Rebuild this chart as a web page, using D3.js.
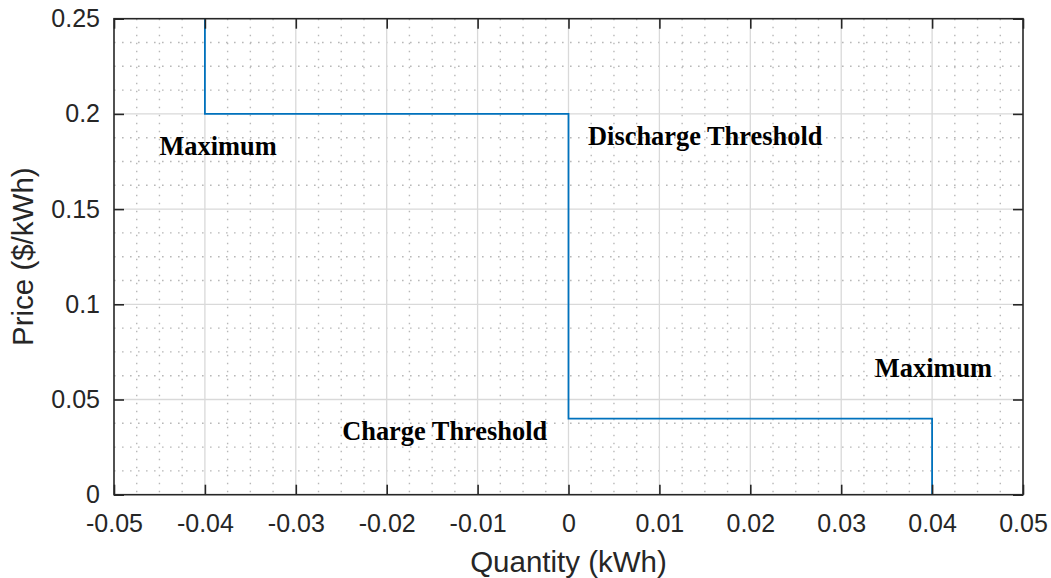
<!DOCTYPE html>
<html>
<head>
<meta charset="utf-8">
<script src="https://cdn.jsdelivr.net/npm/d3@7"></script>
<style>
  html, body { margin: 0; padding: 0; background: #ffffff; }
  svg { display: block; }
</style>
</head>
<body>
<svg id="chart" width="1051" height="578"></svg>
<script>
// Bid curve of the storage unit: price vs. quantity (step profile)
const quantity = [-0.04, -0.04, 0, 0, 0.04, 0.04];
const price    = [0.25, 0.2, 0.2, 0.04, 0.04, 0];

// Axis ticks and their labels
const xTicks = [-0.05, -0.04, -0.03, -0.02, -0.01, 0, 0.01, 0.02, 0.03, 0.04, 0.05];
const xTickLabels = ["-0.05", "-0.04", "-0.03", "-0.02", "-0.01", "0", "0.01", "0.02", "0.03", "0.04", "0.05"];
const yTicks = [0, 0.05, 0.1, 0.15, 0.2, 0.25];
const yTickLabels = ["0", "0.05", "0.1", "0.15", "0.2", "0.25"];

// Annotations placed in data coordinates (left edge, baseline)
const noteText = ["Maximum", "Discharge Threshold", "Charge Threshold", "Maximum"];
const noteX    = [-0.045, 0.00215, -0.0249, 0.0337];
const noteY    = [0.1784, 0.1837, 0.0287, 0.0618];

const margin = { left: 114, right: 28, top: 18.7, bottom: 83.3 };
const W = 1051, H = 578;
const svg = d3.select("#chart");

const x = d3.scaleLinear().domain([-0.05, 0.05]).range([margin.left, W - margin.right]);
const y = d3.scaleLinear().domain([0, 0.25]).range([H - margin.bottom, margin.top]);

const x0 = x.range()[0], x1 = x.range()[1];
const yB = y.range()[0], yT = y.range()[1];

// Minor grid (dotted), four subdivisions per major step
const xMinor = [];
for (let i = 0; i < xTicks.length - 1; i++) {
  const step = (xTicks[i + 1] - xTicks[i]) / 4;
  for (let k = 1; k < 4; k++) xMinor.push(xTicks[i] + k * step);
}
const yMinor = [];
for (let i = 0; i < yTicks.length - 1; i++) {
  const step = (yTicks[i + 1] - yTicks[i]) / 4;
  for (let k = 1; k < 4; k++) yMinor.push(yTicks[i] + k * step);
}

const grid = svg.append("g").attr("class", "grid");
grid.selectAll("line.xminor").data(xMinor).join("line")
  .attr("x1", d => x(d)).attr("x2", d => x(d))
  .attr("y1", yT).attr("y2", yB)
  .attr("stroke", "#b8b8b8").attr("stroke-width", 1.4)
  .attr("stroke-dasharray", "1.6,6.4");
grid.selectAll("line.yminor").data(yMinor).join("line")
  .attr("y1", d => y(d)).attr("y2", d => y(d))
  .attr("x1", x0).attr("x2", x1)
  .attr("stroke", "#b8b8b8").attr("stroke-width", 1.4)
  .attr("stroke-dasharray", "1.6,6.4");

// Major grid (solid, light)
grid.selectAll("line.xmajor").data(xTicks.slice(1, -1)).join("line")
  .attr("x1", d => x(d)).attr("x2", d => x(d))
  .attr("y1", yT).attr("y2", yB)
  .attr("stroke", "#d9d9d9").attr("stroke-width", 1.3);
grid.selectAll("line.ymajor").data(yTicks.slice(1, -1)).join("line")
  .attr("y1", d => y(d)).attr("y2", d => y(d))
  .attr("x1", x0).attr("x2", x1)
  .attr("stroke", "#d9d9d9").attr("stroke-width", 1.3);

// Step curve
const line = d3.line().x(d => x(d[0])).y(d => y(d[1]));
svg.append("path")
  .datum(quantity.map((q, i) => [q, price[i]]))
  .attr("d", line)
  .attr("fill", "none")
  .attr("stroke", "#0072BD")
  .attr("stroke-width", 1.8);

// Axes: ticks point inward on all four sides
const tickFont = "'Liberation Sans', Arial, Helvetica, sans-serif";
const axisColor = "#262626";

function styleAxis(g) {
  g.selectAll(".domain").remove();
  g.selectAll(".tick line").attr("stroke", axisColor).attr("stroke-width", 1.6);
  g.selectAll(".tick text")
    .attr("fill", axisColor)
    .style("font-family", tickFont)
    .style("font-size", "25px");
}

svg.append("g")
  .attr("transform", `translate(0,${yB})`)
  .call(d3.axisBottom(x).tickValues(xTicks).tickSize(-10).tickPadding(20)
    .tickFormat((d, i) => xTickLabels[i]))
  .call(styleAxis);

svg.append("g")
  .attr("transform", `translate(0,${yT})`)
  .call(d3.axisTop(x).tickValues(xTicks).tickSize(-10).tickFormat(""))
  .call(styleAxis);

svg.append("g")
  .attr("transform", `translate(${x0},0)`)
  .call(d3.axisLeft(y).tickValues(yTicks).tickSize(-10).tickPadding(14)
    .tickFormat((d, i) => yTickLabels[i]))
  .call(styleAxis);

svg.append("g")
  .attr("transform", `translate(${x1},0)`)
  .call(d3.axisRight(y).tickValues(yTicks).tickSize(-10).tickFormat(""))
  .call(styleAxis);

// Plot box
svg.append("rect")
  .attr("x", x0).attr("y", yT)
  .attr("width", x1 - x0).attr("height", yB - yT)
  .attr("fill", "none")
  .attr("stroke", axisColor)
  .attr("stroke-width", 1.6);

// Axis titles
svg.append("text")
  .attr("x", x(0)).attr("y", 572)
  .attr("text-anchor", "middle")
  .attr("fill", axisColor)
  .style("font-family", tickFont)
  .style("font-size", "29.5px")
  .text("Quantity (kWh)");

svg.append("text")
  .attr("transform", `translate(33,${(yT + yB) / 2}) rotate(-90)`)
  .attr("text-anchor", "middle")
  .attr("fill", axisColor)
  .style("font-family", tickFont)
  .style("font-size", "29.5px")
  .text("Price ($/kWh)");

// Annotations
svg.append("g").selectAll("text")
  .data(noteText.map((t, i) => ({ t, qx: noteX[i], py: noteY[i] })))
  .join("text")
  .attr("x", d => x(d.qx))
  .attr("y", d => y(d.py))
  .attr("fill", "#000000")
  .style("font-family", "'Liberation Serif', 'Times New Roman', Times, serif")
  .style("font-weight", "bold")
  .style("font-size", "26.4px")
  .text(d => d.t);
</script>
</body>
</html>
